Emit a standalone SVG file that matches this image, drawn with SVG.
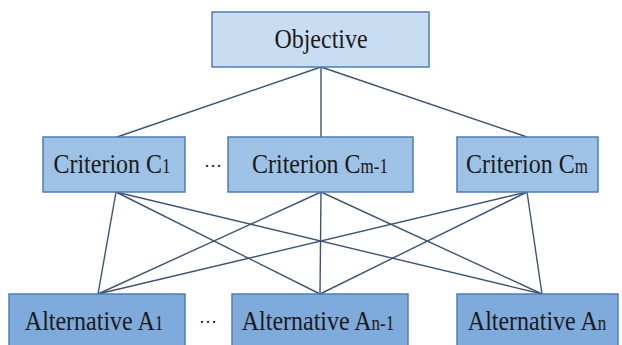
<svg xmlns="http://www.w3.org/2000/svg" width="622" height="345" viewBox="0 0 622 345">
<style>
.box{stroke:#4d7db5;stroke-width:1.5}
.obj{fill:#c8ddf1}
.cri{fill:#9dc2e6}
.alt{fill:#7eaadc}
.t{font-family:"Liberation Serif","Times New Roman",serif;font-size:24px;fill:#1a1a1a;text-anchor:middle}
.s{font-size:17px}
.con line{stroke:#3d5573;stroke-width:1.4}
</style>
<rect width="622" height="345" fill="#ffffff"/>
<g id="connectors" class="con">
<line x1="321" y1="67" x2="117" y2="137"/>
<line x1="321" y1="67" x2="321" y2="137"/>
<line x1="321" y1="67" x2="527" y2="137"/>
<line x1="116" y1="192" x2="98" y2="294"/>
<line x1="116" y1="192" x2="320" y2="294"/>
<line x1="116" y1="192" x2="542" y2="294"/>
<line x1="321" y1="192" x2="98" y2="294"/>
<line x1="321" y1="192" x2="320" y2="294"/>
<line x1="321" y1="192" x2="542" y2="294"/>
<line x1="527" y1="192" x2="98" y2="294"/>
<line x1="527" y1="192" x2="320" y2="294"/>
<line x1="527" y1="192" x2="542" y2="294"/>
</g>
<g id="objective">
<rect class="box obj" x="212" y="12" width="217" height="55"/>
<text class="t" transform="translate(321,48) scale(1,1.18)">Objective</text>
</g>
<g id="criterion-c1">
<rect class="box cri" x="43" y="137" width="142" height="55"/>
<text class="t" transform="translate(112,173) scale(1,1.18)">Criterion C<tspan class="s">1</tspan></text>
</g>
<g id="criterion-dots">
<text class="t" x="213" y="167" style="font-size:18px">…</text>
</g>
<g id="criterion-cm-1">
<rect class="box cri" x="228" y="137" width="185" height="55"/>
<text class="t" transform="translate(320,173) scale(1,1.18)">Criterion C<tspan class="s">m-1</tspan></text>
</g>
<g id="criterion-cm">
<rect class="box cri" x="457" y="137" width="141" height="55"/>
<text class="t" transform="translate(527,173) scale(1,1.18)">Criterion C<tspan class="s">m</tspan></text>
</g>
<g id="alternative-a1">
<rect class="box alt" x="9" y="294" width="176" height="60"/>
<text class="t" transform="translate(94,330) scale(1,1.18)">Alternative A<tspan class="s">1</tspan></text>
</g>
<g id="alternative-dots">
<text class="t" x="208" y="323" style="font-size:18px">…</text>
</g>
<g id="alternative-an-1">
<rect class="box alt" x="232" y="294" width="176" height="60"/>
<text class="t" transform="translate(318,330) scale(1,1.18)">Alternative A<tspan class="s">n-1</tspan></text>
</g>
<g id="alternative-an">
<rect class="box alt" x="457" y="294" width="161" height="60"/>
<text class="t" transform="translate(537,330) scale(1,1.18)">Alternative A<tspan class="s">n</tspan></text>
</g>
</svg>
